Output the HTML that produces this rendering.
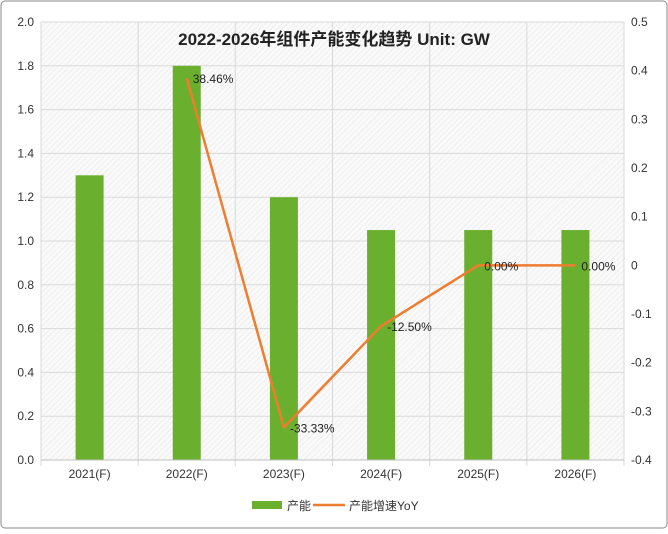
<!DOCTYPE html>
<html><head><meta charset="utf-8"><style>
body{margin:0;background:#fff;}
svg text{font-family:"Liberation Sans","Noto Sans CJK SC",sans-serif;}
</style></head><body>
<svg width="668" height="529" viewBox="0 0 668 529" xmlns="http://www.w3.org/2000/svg">
<defs>
<pattern id="hatch" width="4" height="4" patternUnits="userSpaceOnUse" patternTransform="rotate(45)">
<rect width="4" height="4" fill="#fafafa"/><line x1="0" y1="0" x2="0" y2="4" stroke="#e2e2e2" stroke-width="1"/>
</pattern>
</defs>
<rect x="1" y="1" width="666" height="527" rx="4" fill="#fff" stroke="#8a8a8a"/>
<rect x="41" y="22" width="583" height="438" fill="url(#hatch)"/>
<g id="grid"></g>
<g id="bars"></g>
<g id="line"></g>
<g id="axes"></g>
<text x="334" y="45" text-anchor="middle" font-size="17" font-weight="bold" fill="#222">2022-2026年组件产能变化趋势 Unit: GW</text>
<g>
<rect x="252" y="501" width="30" height="8" fill="#6aaf2e"/>
<text x="287" y="510" font-size="12" fill="#333">产能</text>
<line x1="313" y1="505" x2="345" y2="505" stroke="#ee7d2f" stroke-width="2.5"/>
<text x="349" y="510" font-size="12" fill="#333">产能增速YoY</text>
</g>
</svg>
<script>
const categories=["2021(F)","2022(F)","2023(F)","2024(F)","2025(F)","2026(F)"];
const capacity=[1.3,1.8,1.2,1.05,1.05,1.05];
const yoy=[null,0.3846,-0.3333,-0.125,0,0];
const yoyLabels=["","38.46%","-33.33%","-12.50%","0.00%","0.00%"];
const leftTicks=["0.0","0.2","0.4","0.6","0.8","1.0","1.2","1.4","1.6","1.8","2.0"];
const rightTicks=["-0.4","-0.3","-0.2","-0.1","0","0.1","0.2","0.3","0.4","0.5"];
const NS="http://www.w3.org/2000/svg";
const L=41,R=624,T=22,B=460,band=(R-L)/categories.length;
const yL=v=>B-(v/2.0)*(B-T);
const yR=v=>B-((v+0.4)/0.9)*(B-T);
const xC=i=>L+band*(i+0.5);
function mk(tag,attrs,parent){const e=document.createElementNS(NS,tag);for(const k in attrs)e.setAttribute(k,attrs[k]);parent.appendChild(e);return e;}
const grid=document.getElementById('grid'),bars=document.getElementById('bars'),line=document.getElementById('line'),axes=document.getElementById('axes');
leftTicks.forEach(t=>{const y=yL(parseFloat(t));
 const g=mk('line',{x1:L,x2:R,y1:y,y2:y,stroke:'#d9d9d9'},grid);
 
 
 const tx=mk('text',{x:34,y:y+4,'text-anchor':'end','font-size':12,fill:'#333'},axes);tx.textContent=t;
 
 });
rightTicks.forEach(t=>{const y=yR(parseFloat(t));
 const tx=mk('text',{x:631,y:y+4,'font-size':12,fill:'#333'},axes);tx.textContent=t;
 
 });
for(let i=0;i<=categories.length;i++){const x=L+band*i;
 const g=mk('line',{x1:x,x2:x,y1:T,y2:B+6,stroke:'#d9d9d9'},grid);
 
 }
const ax=mk('line',{x1:L,x2:R,y1:B,y2:B,stroke:'#bfbfbf'},axes);


categories.forEach((c,i)=>{
 const bw=28,y=yL(capacity[i]);
 const r=mk('rect',{x:xC(i)-bw/2,y:y,width:bw,height:B-y,fill:'#6aaf2e'},bars);
 
 
 const tx=mk('text',{x:xC(i),y:B+18,'text-anchor':'middle','font-size':12,fill:'#333'},axes);tx.textContent=c;
 
 
});
let pts=[];yoy.forEach((v,i)=>{if(v!==null)pts.push(xC(i)+','+yR(v));});
const pl=mk('polyline',{points:pts.join(' '),fill:'none',stroke:'#ee7d2f','stroke-width':2.5,'stroke-linejoin':'round'},line);


yoy.forEach((v,i)=>{if(v===null)return;
 const tx=mk('text',{x:xC(i)+6,y:yR(v)+5,'font-size':12,fill:'#222'},line);tx.textContent=yoyLabels[i];
 
 });
</script>
</body></html>
